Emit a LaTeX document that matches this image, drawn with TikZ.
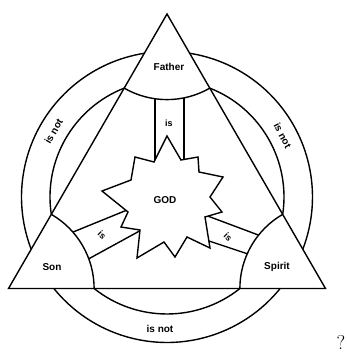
\documentclass[tikz,border=0pt]{standalone}
\usepackage{fontspec}
\setsansfont{Liberation Sans}
\usetikzlibrary{calc}
\begin{document}
\begin{tikzpicture}[x=1pt,y=1pt,line width=1.4pt,
  lbl/.style={font=\sffamily\bfseries\fontsize{10}{12}\selectfont,inner sep=0pt},
  islbl/.style={font=\sffamily\bfseries\fontsize{9}{11}\selectfont,inner sep=0pt}]
\useasboundingbox (-167,-157) rectangle (180,197);
\coordinate (A) at (90:183);
\coordinate (B) at (210:183);
\coordinate (C) at (330:183);
% outer circle (outside triangle)
\draw (99.03:145.5) arc[start angle=99.03,end angle=201.03,radius=145.5];
\draw (218.97:145.5) arc[start angle=218.97,end angle=321.03,radius=145.5];
\draw (-21.03:145.5) arc[start angle=-21.03,end angle=81.03,radius=145.5];
% inner circle (outside triangle)
\draw (111.45:117) arc[start angle=111.45,end angle=188.55,radius=117];
\draw (231.45:117) arc[start angle=231.45,end angle=308.55,radius=117];
\draw (-8.55:117) arc[start angle=-8.55,end angle=68.55,radius=117];
% "is" bands
\draw (-12,20) -- (-12,110);
\draw (17,20) -- (17,110);
\draw (-35,-11) -- (-100,-37.5);
\draw (-22,-31) -- (-85,-65.5);
\draw (30,-15) -- (95,-39.4);
\draw (36,-42) -- (84,-58);
% star
\draw[fill=white] (0,61) -- (14,37) -- (31,40) -- (32,25) -- (56,20) -- (43,0)
  -- (55,-15) -- (38,-20) -- (43,-51) -- (20,-40) -- (8,-60) -- (-3,-45)
  -- (-30,-61) -- (-27,-33) -- (-46,-30) -- (-39,-15) -- (-65,6) -- (-36,17)
  -- (-32,40) -- (-13,35) -- cycle;
% vertex regions
\fill[white] (A) -- ++(240:85.6) arc[start angle=240,end angle=300,radius=85.6] -- cycle;
\fill[white] (B) -- ++(0:85.6) arc[start angle=0,end angle=60,radius=85.6] -- cycle;
\fill[white] (C) -- ++(120:85.6) arc[start angle=120,end angle=180,radius=85.6] -- cycle;
\draw ($(A)+(240:85.6)$) arc[start angle=240,end angle=300,radius=85.6];
\draw ($(B)+(0:85.6)$) arc[start angle=0,end angle=60,radius=85.6];
\draw ($(C)+(120:85.6)$) arc[start angle=120,end angle=180,radius=85.6];
% triangle
\draw[line join=miter] (A) -- (B) -- (C) -- cycle;
% labels
\node[lbl] (father) at (2,130) {Father};
\node[lbl] (son) at (-115,-70) {Son};
\node[lbl] (spirit) at (110,-70) {Spirit};
\node[lbl] (god) at (-2,-3) {GOD};
\node[islbl] (is1) at (2,74) {is};
\node[islbl,rotate=-45] (is2) at (-65,-38) {is};
\node[islbl,rotate=-45] (is3) at (61,-40) {is};
\node[lbl,rotate=60] (isnot1) at (-113.4,65.5) {is not};
\node[lbl,rotate=-62] (isnot2) at (115.7,61.5) {is not};
\node[lbl] (isnot3) at (-7,-132) {is not};
\node[font=\fontsize{20}{22}\selectfont,inner sep=0pt] (q) at (174,-145) {?};
\end{tikzpicture}
\end{document}
